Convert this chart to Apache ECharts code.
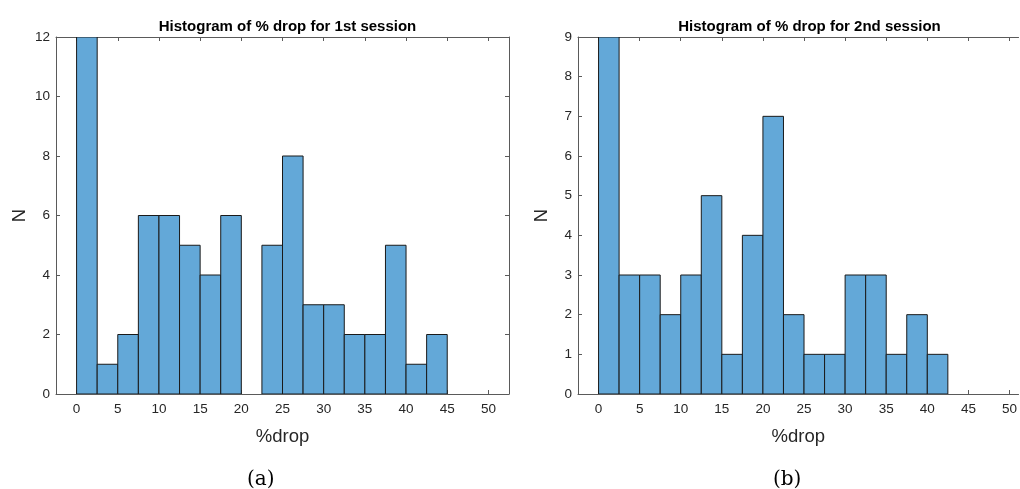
<!DOCTYPE html>
<html>
<head>
<meta charset="utf-8">
<style>
  html, body { margin: 0; padding: 0; background: #fff; }
  #chart { width: 1020px; height: 489px; }
</style>
<script src="https://cdn.jsdelivr.net/npm/echarts@6/dist/echarts.min.js"></script>
</head>
<body>
<div id="chart"></div>
<script>
// Histogram bin edges (width 2.5) shared by both sessions
const binEdges = [0, 2.5, 5, 7.5, 10, 12.5, 15, 17.5, 20, 22.5, 25, 27.5, 30, 32.5, 35, 37.5, 40, 42.5, 45];

// Counts per bin
const session1Counts = [12, 1, 2, 6, 6, 5, 4, 6, 0, 5, 8, 3, 3, 2, 2, 5, 1, 2];
const session2Counts = [9, 3, 3, 2, 3, 5, 1, 4, 7, 2, 1, 1, 3, 3, 1, 2, 1, 0];

// Axis ticks
const xTicks = [0, 5, 10, 15, 20, 25, 30, 35, 40, 45, 50];
const session1YTicks = [0, 2, 4, 6, 8, 10, 12];
const session2YTicks = [0, 1, 2, 3, 4, 5, 6, 7, 8, 9];

const titles = ['Histogram of % drop for 1st session', 'Histogram of % drop for 2nd session'];
const captions = ['(a)', '(b)'];

const FACE = '#63a8d8';
const EDGE = '#1a1a1a';
const AXIS = '#5a5a5a';
const TEXT = '#262626';
const FONT = 'Liberation Sans, Arial, sans-serif';

function binsOf(counts) {
  const out = [];
  counts.forEach((c, i) => {
    if (c > 0) out.push([binEdges[i], binEdges[i + 1], c]);
  });
  return out;
}

// The second panel runs past the right edge of the page, so its x range is cut at 51.1
// and its right-hand frame side is not drawn
const panels = [
  { grid: { left: 56, top: 37, width: 453, height: 357 }, xMax: 52.5, titleX: 282.5, capX: 247, rightSide: true },
  { grid: { left: 578, top: 37, width: 442, height: 357 }, xMax: 51.1, titleX: 804.5, capX: 773, rightSide: false }
];

function xAxes(gridIndex, xMax) {
  const base = {
    type: 'value', gridIndex, min: -2.5, max: xMax,
    splitLine: { show: false },
    axisLine: { show: true, onZero: false, lineStyle: { color: AXIS, width: 1 } },
    axisTick: { show: true, inside: true, length: 4, customValues: xTicks, lineStyle: { color: AXIS } }
  };
  return [
    Object.assign({}, base, {
      position: 'bottom',
      axisLabel: { customValues: xTicks, color: TEXT, fontSize: 13.5, fontFamily: FONT, margin: 8 },
      name: '%drop', nameLocation: 'middle', nameGap: 33,
      nameTextStyle: { color: TEXT, fontSize: 18.5, fontFamily: FONT }
    }),
    Object.assign({}, base, { position: 'top', axisLabel: { show: false } })
  ];
}

function yAxes(gridIndex, ticks, rightSide) {
  const max = ticks[ticks.length - 1];
  const base = {
    type: 'value', gridIndex, min: 0, max, interval: ticks[1] - ticks[0],
    splitLine: { show: false },
    axisLine: { show: true, onZero: false, lineStyle: { color: AXIS, width: 1 } },
    axisTick: { show: true, inside: true, length: 4, lineStyle: { color: AXIS } }
  };
  return [
    Object.assign({}, base, {
      position: 'left',
      axisLabel: { color: TEXT, fontSize: 13.5, fontFamily: FONT, margin: 6 },
      name: 'N', nameLocation: 'middle', nameGap: 27,
      nameTextStyle: { color: TEXT, fontSize: 18.5, fontFamily: FONT }
    }),
    Object.assign({}, base, {
      position: 'right',
      show: rightSide,
      axisLabel: { show: false }
    })
  ];
}

function histSeries(idx, counts) {
  return {
    type: 'custom',
    xAxisIndex: idx * 2,
    yAxisIndex: idx * 2,
    clip: true,
    data: binsOf(counts),
    encode: { x: [0, 1], y: 2 },
    renderItem(params, api) {
      const p0 = api.coord([api.value(0), api.value(2)]);
      const p1 = api.coord([api.value(1), 0]);
      return {
        type: 'rect',
        shape: { x: p0[0], y: p0[1], width: p1[0] - p0[0], height: p1[1] - p0[1] },
        style: { fill: FACE, stroke: EDGE, lineWidth: 1 }
      };
    }
  };
}

const chart = echarts.init(document.getElementById('chart'), null, { renderer: 'canvas' });

chart.setOption({
  backgroundColor: '#ffffff',
  animation: false,
  title: titles.map((t, i) => ({
    text: t,
    left: panels[i].titleX,
    top: 14,
    textAlign: 'center',
    textStyle: { color: '#000', fontSize: 15, fontWeight: 'bold', fontFamily: FONT }
  })),
  grid: panels.map(p => p.grid),
  xAxis: [...xAxes(0, panels[0].xMax), ...xAxes(1, panels[1].xMax)],
  yAxis: [...yAxes(0, session1YTicks, panels[0].rightSide), ...yAxes(1, session2YTicks, panels[1].rightSide)],
  series: [histSeries(0, session1Counts), histSeries(1, session2Counts)],
  graphic: captions.map((c, i) => ({
    type: 'text',
    left: panels[i].capX,
    top: 470,
    style: { text: c, fontSize: 20, fontFamily: 'DejaVu Serif, Liberation Serif, serif', fill: '#000' }
  }))
});
</script>
</body>
</html>
